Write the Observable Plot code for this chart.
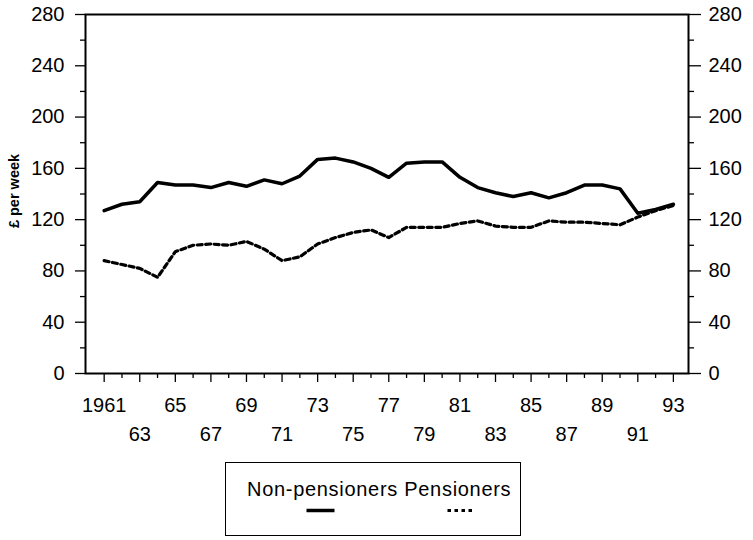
<!DOCTYPE html>
<html>
<head>
<meta charset="utf-8">
<script src="https://cdn.jsdelivr.net/npm/d3@7"></script>
<script src="https://cdn.jsdelivr.net/npm/@observablehq/plot@0.6"></script>
<style>
  html, body { margin: 0; padding: 0; background: white; }
  #wrap { position: relative; width: 753px; height: 540px; background: white; font-family: "Liberation Sans", Arial, Helvetica, sans-serif; }
  #legend { position: absolute; left: 225px; top: 462px; width: 296px; height: 74px; border: 1.5px solid black; box-sizing: border-box; }
  #legend .txt { position: absolute; left: 21px; top: 15px; font-size: 20px; color: black; white-space: nowrap; letter-spacing: 0.7px; }
  #legend svg { position: absolute; left: 0; top: 0; }
</style>
</head>
<body>
<div id="wrap"></div>
<script>
// ---- data ----
const years = [1961,1962,1963,1964,1965,1966,1967,1968,1969,1970,1971,1972,1973,1974,1975,1976,1977,1978,1979,1980,1981,1982,1983,1984,1985,1986,1987,1988,1989,1990,1991,1992,1993];
const nonPensioners = [127,132,134,149,147,147,145,149,146,151,148,154,167,168,165,160,153,164,165,165,153,145,141,138,141,137,141,147,147,144,125,128,132];
const pensioners = [88,85,82,75,95,100,101,100,103,97,88,91,101,106,110,112,106,114,114,114,117,119,115,114,114,119,118,118,117,116,122,127,131];
const seriesNames = ["Non-pensioners", "Pensioners"];
const row1Ticks = [1961,1965,1969,1973,1977,1981,1985,1989,1993];
const row1Labels = ["1961","65","69","73","77","81","85","89","93"];
const row2Ticks = [1963,1967,1971,1975,1979,1983,1987,1991];
const row2Labels = ["63","67","71","75","79","83","87","91"];
const oddYears = years.filter(y => y % 2 === 1);
const evenYears = years.filter(y => y % 2 === 0);
const yMajor = [0,40,80,120,160,200,240,280];
const yMinor = [20,60,100,140,180,220,260];
const yLabel = "£ per week";

const rowsNP = years.map((yr, i) => ({year: yr, value: nonPensioners[i]}));
const rowsP = years.map((yr, i) => ({year: yr, value: pensioners[i]}));

const font = "Liberation Sans, Arial, Helvetica, sans-serif";

const chart = Plot.plot({
  width: 753,
  height: 455,
  marginLeft: 85,
  marginRight: 65,
  marginTop: 14,
  marginBottom: 82,
  style: {fontFamily: font, fontSize: "20px", color: "black", background: "white", overflow: "visible"},
  x: {domain: [1959.95, 1993.85], label: null},
  y: {domain: [0, 280], label: null},
  marks: [
    Plot.axisY(yMajor, {anchor: "left", tickSize: 10, tickPadding: 11, label: null, fontSize: 20, strokeWidth: 1.3}),
    Plot.axisY(yMinor, {anchor: "left", tickSize: 5, tickFormat: () => "", label: null, strokeWidth: 1.3}),
    Plot.axisY(yMajor, {anchor: "right", tickSize: 12, tickPadding: 8, label: null, fontSize: 20, strokeWidth: 1.3}),
    Plot.axisY(yMinor, {anchor: "right", tickSize: 5, tickFormat: () => "", label: null, strokeWidth: 1.3}),
    Plot.axisX(oddYears, {anchor: "bottom", tickSize: 9, tickFormat: () => "", label: null, strokeWidth: 1.3}),
    Plot.axisX(evenYears, {anchor: "bottom", tickSize: 5, tickFormat: () => "", label: null, strokeWidth: 1.3}),
    Plot.axisX(row1Ticks, {anchor: "bottom", tickSize: 0, tickPadding: 24, tickFormat: d => row1Labels[row1Ticks.indexOf(d)], label: null, fontSize: 20}),
    Plot.axisX(row2Ticks, {anchor: "bottom", tickSize: 0, tickPadding: 53, tickFormat: d => row2Labels[row2Ticks.indexOf(d)], label: null, fontSize: 20}),
    Plot.frame({stroke: "black", strokeWidth: 2}),
    Plot.text([yLabel], {frameAnchor: "left", textAnchor: "middle", lineAnchor: "middle", dx: -71, dy: -3, rotate: -90, fontWeight: "bold", fontSize: 14.5, fill: "black"}),
    Plot.line(rowsNP, {x: "year", y: "value", stroke: "black", strokeWidth: 3.5, strokeLinejoin: "round"}),
    Plot.line(rowsP, {x: "year", y: "value", stroke: "black", strokeWidth: 3.2, strokeDasharray: "5,3.5", strokeLinejoin: "round"})
  ]
});

const wrap = document.getElementById("wrap");
wrap.appendChild(chart);

// legend
const legend = document.createElement("div");
legend.id = "legend";
const txt = document.createElement("div");
txt.className = "txt";
txt.textContent = seriesNames.join(" ");
legend.appendChild(txt);
const ns = "http://www.w3.org/2000/svg";
const lsvg = document.createElementNS(ns, "svg");
lsvg.setAttribute("width", "293");
lsvg.setAttribute("height", "71");
const samples = [
  {x1: 80.5, x2: 108.5, dash: null, w: 3.5},
  {x1: 221.5, x2: 249, dash: "3.5,3.5", w: 3}
];
samples.forEach(s => {
  const l = document.createElementNS(ns, "line");
  l.setAttribute("x1", s.x1); l.setAttribute("x2", s.x2);
  l.setAttribute("y1", 47.5); l.setAttribute("y2", 47.5);
  l.setAttribute("stroke", "black");
  l.setAttribute("stroke-width", s.w);
  if (s.dash) l.setAttribute("stroke-dasharray", s.dash);
  lsvg.appendChild(l);
});
legend.appendChild(lsvg);
wrap.appendChild(legend);
</script>
</body>
</html>
